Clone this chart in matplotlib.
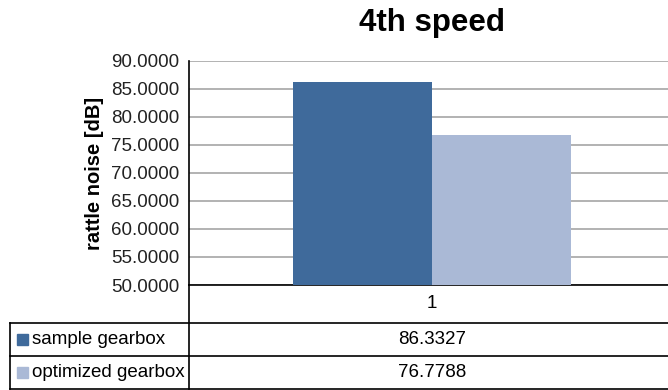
import matplotlib
matplotlib.use('agg')
import matplotlib.pyplot as plt
from matplotlib.lines import Line2D
from matplotlib.patches import Rectangle

plt.rcParams['font.family'] = ['Liberation Sans', 'DejaVu Sans']

categories = ['1']
series_names = ['sample gearbox', 'optimized gearbox']
series_values = [[86.3327], [76.7788]]
series_colors = ['#3f6a9b', '#aab9d6']
value_labels = ['86.3327', '76.7788']
yticks = [50, 55, 60, 65, 70, 75, 80, 85, 90]

W, H = 668, 390
fig = plt.figure(figsize=(W / 100, H / 100), dpi=100)

# plot area in pixel coordinates
left, right, top, bottom = 189, 668, 61, 285
ax = fig.add_axes([left / W, 1 - bottom / H, (right - left) / W, (bottom - top) / H])

cat_w = 486.0
ax.set_xlim(-0.5, -0.5 + (right - left) / cat_w)
bar_w = 139 / cat_w
for i, (name, vals) in enumerate(zip(series_names, series_values)):
    xs = [k + (i - 0.5) * bar_w for k in range(len(categories))]
    ax.bar(xs, [v - 50 for v in vals], bottom=50, width=bar_w,
           color=series_colors[i], zorder=3)

ax.set_ylim(50, 90)
ax.set_yticks(yticks)
ax.set_yticklabels(['%.4f' % t for t in yticks], fontsize=13.5, color='#222222')
ax.set_xticks([])
ax.yaxis.grid(True, color='#a6a6a6', linewidth=1.2, zorder=0)
ax.tick_params(axis='y', length=0, pad=7)
for s in ['top', 'right']:
    ax.spines[s].set_visible(False)
ax.spines['left'].set_linewidth(1.2)
ax.spines['bottom'].set_linewidth(1.2)

ax.set_ylabel('rattle noise [dB]', fontsize=14.5, fontweight='bold', labelpad=5)
fig.text(432 / W, 1 - 23 / H, '4th speed', fontsize=22.5, fontweight='bold',
         ha='center', va='center')

# data table below the plot
def hline(y, x0, x1):
    fig.add_artist(Line2D([x0 / W, x1 / W], [1 - y / H, 1 - y / H], color='black', lw=1.2))

def vline(x, y0, y1):
    fig.add_artist(Line2D([x / W, x / W], [1 - y0 / H, 1 - y1 / H], color='black', lw=1.2))

vline(left, bottom, 389)
vline(10, 323, 389)
hline(323, 10, W)
hline(356, 10, W)
hline(389, 10, W)

col_center = 432
fig.text(col_center / W, 1 - 304 / H, categories[0], fontsize=13.5,
         ha='center', va='center')
row_y = [339.5, 372.5]
for name, col, lab, y in zip(series_names, series_colors, value_labels, row_y):
    fig.add_artist(Rectangle((17 / W, 1 - (y + 5.5) / H), 11 / W, 11 / H,
                             color=col, transform=fig.transFigure))
    fig.text(32 / W, 1 - y / H, name, fontsize=13.5, ha='left', va='center')
    fig.text(col_center / W, 1 - y / H, lab, fontsize=13.5, ha='center', va='center')

fig.savefig('out.png', dpi=100)
